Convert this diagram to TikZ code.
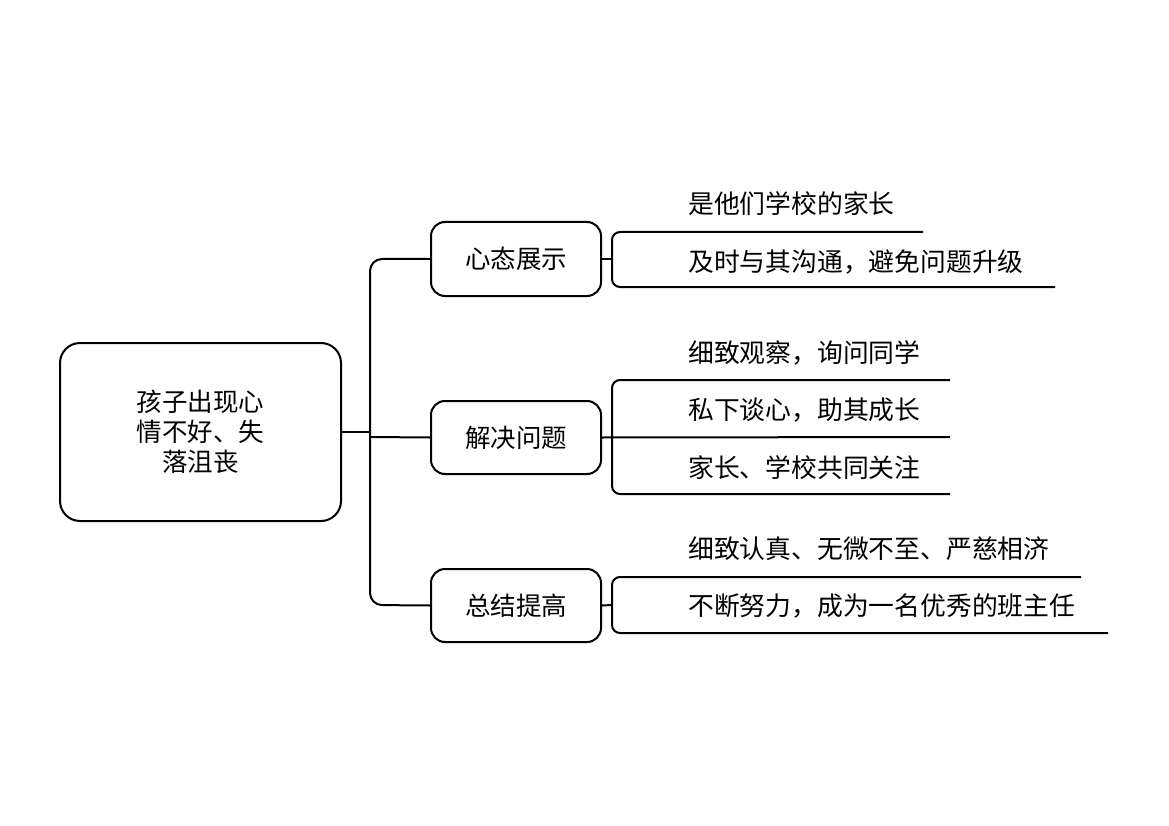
\documentclass[tikz,border=0pt]{standalone}
\usepackage{fontspec}
\setmainfont{Noto Sans CJK SC}
\begin{document}
\begin{tikzpicture}[x=1pt,y=-1pt,
  boxstyle/.style={draw,line width=2pt,rounded corners=14pt,inner sep=0pt,font=\fontsize{25.5}{28}\selectfont},
  rootstyle/.style={draw,line width=2pt,rounded corners=20pt,inner sep=0pt,align=center,font=\fontsize{25.5}{30}\selectfont},
  leaf/.style={anchor=west,inner sep=0pt,font=\fontsize{25.8}{28}\selectfont},
  conn/.style={line width=2pt,rounded corners=12pt},
  brk/.style={line width=2pt,rounded corners=8pt}]
\useasboundingbox (0,0) rectangle (1169,826);
% root
\node[rootstyle,minimum width=281pt,minimum height=178pt] (root) at (200.5,432) {孩子出现心\\情不好、失\\落沮丧};
% branches
\node[boxstyle,minimum width=170pt,minimum height=74pt] (b1) at (516,259) {心态展示};
\node[boxstyle,minimum width=170pt,minimum height=73pt] (b2) at (516,437.5) {解决问题};
\node[boxstyle,minimum width=170pt,minimum height=73pt] (b3) at (516,605.5) {总结提高};
% trunk
\coordinate (t0) at (370,432);
\coordinate (t1) at (370,437);
\draw[line width=2pt] (root.east) -- (t0);
\draw[conn] (b1.west) -- (370,259) -- (370,605) -- (b3.west);
\draw[line width=2pt] (t1) -- (b2.west);
% leaves branch 1
\node[leaf] (l11) at (688,204) {是他们学校的家长};
\node[leaf] (l12) at (688,262) {及时与其沟通，避免问题升级};
\coordinate (e11) at (923,232);
\coordinate (e12) at (1055,287);
\coordinate (j1) at (612,259);
\draw[line width=2pt] (b1.east) -- (j1);
\draw[brk] (j1) -- (612,232) -- (e11);
\draw[brk] (j1) -- (612,287) -- (e12);
% leaves branch 2
\node[leaf] (l21) at (688,353) {细致观察，询问同学};
\node[leaf] (l22) at (688,410) {私下谈心，助其成长};
\node[leaf] (l23) at (688,468) {家长、学校共同关注};
\coordinate (e21) at (950,380);
\coordinate (e22) at (950,437);
\coordinate (e23) at (950,494);
\coordinate (j2) at (612,437);
\draw[line width=2pt] (b2.east) -- (e22);
\draw[brk] (j2) -- (612,380) -- (e21);
\draw[brk] (j2) -- (612,494) -- (e23);
% leaves branch 3
\node[leaf] (l31) at (688,549) {细致认真、无微不至、严慈相济};
\node[leaf] (l32) at (688,606) {不断努力，成为一名优秀的班主任};
\coordinate (e31) at (1081,577);
\coordinate (e32) at (1108,633);
\coordinate (j3) at (612,605);
\draw[line width=2pt] (b3.east) -- (j3);
\draw[brk] (j3) -- (612,577) -- (e31);
\draw[brk] (j3) -- (612,633) -- (e32);
\end{tikzpicture}
\end{document}
